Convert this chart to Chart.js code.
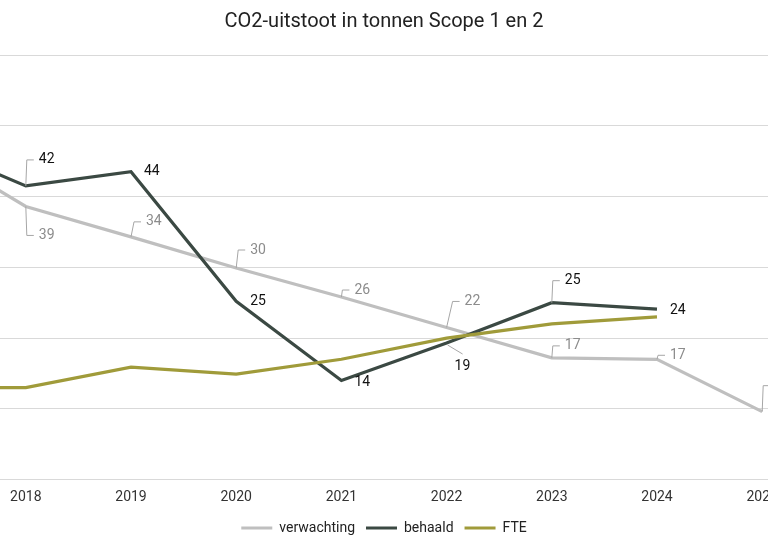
<!DOCTYPE html>
<html>
<head>
<meta charset="utf-8">
<script src="https://cdn.jsdelivr.net/npm/chart.js@4.4.1/dist/chart.umd.min.js"></script>
<style>
  html,body{margin:0;padding:0;background:#fff;}
  #frame{position:relative;width:768px;height:550px;overflow:hidden;}
  #wrap{position:absolute;left:-132px;top:0;width:1032px;height:550px;}
</style>
</head>
<body>
<div id="frame"><div id="wrap"><canvas id="co2Chart"></canvas></div></div>
<script>
'use strict';
const years=[2017,2018,2019,2020,2021,2022,2023,2024,2025];
const verwachting=[47.5,38.6,34.3,29.9,25.8,21.5,17.2,17.0,9.6];
const behaald=[47.8,41.5,43.5,25.2,14.0,19.3,25.0,24.1,null];
const fte=[13.0,13.0,15.9,14.9,17.0,20.0,22.0,23.0,null];
const yTicks=[0,10,20,30,40,50,60];

// where each value label sits, relative to its point
const verwachtingLabelPos=[null,{dx:13,dy:29,lead:true},{dx:15,dy:-15,lead:true},{dx:14,dy:-18,lead:true},
  {dx:13,dy:-7,lead:true},{dx:18,dy:-26,lead:true},{dx:13,dy:-12,lead:true},{dx:13,dy:-4,lead:true},{dx:13,dy:-26,lead:true}];
const behaaldLabelPos=[null,{dx:13,dy:-26,lead:true},{dx:13,dy:0},{dx:14,dy:0},{dx:13,dy:2},
  {dx:8,dy:23,path:[[1,2],[16,11]]},{dx:13,dy:-22,lead:true},{dx:13,dy:1},null];

const C_VERW='#bfbfbf', C_BEH='#3b4943', C_FTE='#a09b3a';

function pts(vals){
  return years.map((y,i)=>({x:y,y:vals[i]}));
}

const valueLabels={
  id:'valueLabels',
  afterLayout(chart){
    // pull the legend a little closer to the axis labels
    if(chart.legend){ chart.legend.top-=5; chart.legend.bottom-=5; }
  },
  afterDatasetsDraw(chart){
    const ctx=chart.ctx;
    chart.data.datasets.forEach((ds,di)=>{
      const pos=ds.labelPos;
      if(!pos) return;
      const meta=chart.getDatasetMeta(di);
      meta.data.forEach((el,i)=>{
        const p=pos[i], v=ds.data[i].y;
        if(!p || v==null) return;
        const px=el.x, py=el.y;
        ctx.save();
        ctx.strokeStyle='#a6a6a6';
        ctx.lineWidth=1;
        if(p.lead){
          ctx.beginPath();
          ctx.moveTo(px,py);
          ctx.lineTo(px+p.dx-12,py+p.dy);
          ctx.lineTo(px+p.dx-5,py+p.dy);
          ctx.stroke();
        } else if(p.path){
          ctx.beginPath();
          ctx.moveTo(px+p.path[0][0],py+p.path[0][1]);
          for(let k=1;k<p.path.length;k++) ctx.lineTo(px+p.path[k][0],py+p.path[k][1]);
          ctx.stroke();
        }
        ctx.fillStyle=ds.labelColor;
        ctx.font='14px Roboto';
        ctx.textAlign='left';
        ctx.textBaseline='middle';
        ctx.fillText(String(Math.round(v)),px+p.dx,py+p.dy);
        ctx.restore();
      });
    });
  }
};

new Chart(document.getElementById('co2Chart').getContext('2d'),{
  type:'line',
  data:{
    datasets:[
      {label:'verwachting',data:pts(verwachting),borderColor:C_VERW,backgroundColor:C_VERW,borderWidth:3.2,
        pointRadius:0,tension:0,order:3,labelPos:verwachtingLabelPos,labelColor:'#8c8c8c'},
      {label:'behaald',data:pts(behaald),borderColor:C_BEH,backgroundColor:C_BEH,borderWidth:3.2,
        pointRadius:0,tension:0,order:2,labelPos:behaaldLabelPos,labelColor:'#111'},
      {label:'FTE',data:pts(fte),borderColor:C_FTE,backgroundColor:C_FTE,borderWidth:3.2,
        pointRadius:0,tension:0,order:1}
    ]
  },
  options:{
    responsive:true,
    maintainAspectRatio:false,
    animation:false,
    layout:{padding:{left:0,right:0,top:0,bottom:0}},
    plugins:{
      title:{display:true,text:'CO2-uitstoot in tonnen Scope 1 en 2',color:'#222',
        font:{family:'Roboto',size:20,weight:'normal'},padding:{top:10,bottom:21}},
      legend:{
        position:'bottom',
        labels:{
          font:{family:'Roboto',size:14},color:'#222',boxWidth:31,boxHeight:3,padding:11,
          generateLabels(chart){
            return chart.data.datasets.map((ds,i)=>({text:ds.label,fillStyle:ds.borderColor,
              strokeStyle:ds.borderColor,lineWidth:0,datasetIndex:i,fontColor:'#222'}));
          }
        }
      },
      tooltip:{enabled:false}
    },
    scales:{
      x:{
        type:'linear',min:2016.5,max:2016.5+1032/105.2,
        grid:{display:false,drawTicks:false},border:{display:false},
        ticks:{stepSize:1,includeBounds:false,autoSkip:false,padding:10,color:'#333',
          font:{family:'Roboto',size:14,lineHeight:1.1},callback:v=>String(v)}
      },
      y:{
        min:0,max:60,
        afterBuildTicks:s=>{s.ticks=yTicks.map(v=>({value:v}));},
        afterFit:s=>{s.width=0;},
        grid:{color:'#d9d9d9',lineWidth:1,drawTicks:false},
        border:{display:false},
        ticks:{display:false}
      }
    }
  },
  plugins:[valueLabels]
});
</script>
</body>
</html>
